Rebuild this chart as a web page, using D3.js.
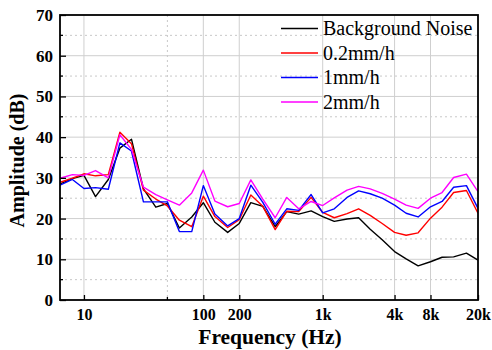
<!DOCTYPE html>
<html><head><meta charset="utf-8">
<script src="https://cdn.jsdelivr.net/npm/d3@7"></script>
<style>
html,body{margin:0;padding:0;background:#fff;}
svg{display:block;}
text{font-family:"Liberation Serif","Times New Roman",serif;}
</style></head>
<body><div id="chart"></div>
<script>
const freqs = [6.3,8,10,12.5,16,20,25,31.5,40,50,63,80,100,125,160,200,250,315,400,500,630,800,1000,1250,1600,2000,2500,3150,4000,5000,6300,8000,10000,12500,16000,20000];
const backgroundNoise = [28.5,29.8,30.6,25.4,29.6,37.3,39.5,27.3,22.8,23.7,17.7,20.4,23.9,19.1,16.6,18.8,23.9,23.0,18.0,21.7,21.1,21.9,20.5,19.3,19.9,20.2,17.4,14.8,11.9,10.1,8.4,9.4,10.5,10.6,11.5,9.8];
const rain02 = [28.9,29.9,31.0,30.5,30.8,41.2,38.4,27.0,24.8,23.1,19.6,18.0,25.5,20.5,17.8,19.7,25.8,23.0,17.3,21.8,21.7,25.2,21.5,20.2,21.2,22.4,20.8,18.8,16.6,15.9,16.5,20.1,22.8,26.4,26.9,21.3];
const rain1 = [28.2,29.6,27.4,27.6,27.2,38.6,36.6,24.1,24.1,24.1,16.8,16.8,28.1,21.1,18.2,20.0,28.2,24.0,18.6,22.4,22.0,25.9,21.4,22.4,25.2,26.8,26.1,25.0,23.3,21.3,20.4,22.9,24.2,27.7,28.1,22.5];
const rain2 = [29.9,30.8,30.6,31.8,30.0,40.6,37.0,27.7,25.9,24.6,23.3,26.3,31.9,24.3,22.9,23.7,29.5,24.8,20.2,25.2,22.4,24.2,23.2,25.1,27.0,27.9,27.3,26.2,24.8,23.3,22.5,25.0,26.4,30.1,30.9,26.6];
const seriesNames = ["Background Noise","0.2mm/h","1mm/h","2mm/h"];
const seriesColors = ["#000000","#ff0000","#0000ff","#ff00ff"];
const xTickValues = [10,100,200,1000,4000,8000,20000];
const xTickLabels = ["10","100","200","1k","4k","8k","20k"];
const xMinorTicks = [50];
const yTickValues = [0,10,20,30,40,50,60,70];
const yMinorTicks = [5,15,25,35,45,55,65];

const W=492,H=350;
const L=60,R=478,T=15,B=300;
const svg=d3.select("#chart").append("svg").attr("width",W).attr("height",H);
const x=d3.scaleLog().domain([6.3,20000]).range([L,R]);
const y=d3.scaleLinear().domain([0,70]).range([B,T]);

// gridlines
const g=svg.append("g");
g.selectAll(".hmaj").data(yTickValues.filter(v=>v>0&&v<70)).join("line")
 .attr("x1",L).attr("x2",R).attr("y1",d=>y(d)).attr("y2",d=>y(d))
 .attr("stroke","#cfcfcf").attr("stroke-width",1);
g.selectAll(".hmin").data(yMinorTicks).join("line")
 .attr("x1",L).attr("x2",R).attr("y1",d=>y(d)).attr("y2",d=>y(d))
 .attr("stroke","#c8c8c8").attr("stroke-width",1).attr("stroke-dasharray","2,3");
g.selectAll(".vmaj").data(xTickValues.filter(v=>v<20000)).join("line")
 .attr("y1",T).attr("y2",B).attr("x1",d=>x(d)).attr("x2",d=>x(d))
 .attr("stroke","#cfcfcf").attr("stroke-width",1);
g.selectAll(".vmin").data(xMinorTicks).join("line")
 .attr("y1",T).attr("y2",B).attr("x1",d=>x(d)).attr("x2",d=>x(d))
 .attr("stroke","#c8c8c8").attr("stroke-width",1).attr("stroke-dasharray","2,3");

// series lines
const allSeries=[backgroundNoise,rain02,rain1,rain2];
const line=d3.line().x((d,i)=>x(freqs[i])).y(d=>y(d));
svg.append("defs").append("clipPath").attr("id","clip").append("rect")
 .attr("x",L).attr("y",T).attr("width",R-L).attr("height",B-T);
const lg=svg.append("g").attr("clip-path","url(#clip)");
allSeries.forEach((s,k)=>{
  lg.append("path").datum(s).attr("d",line).attr("fill","none")
   .attr("stroke",seriesColors[k]).attr("stroke-width",1.4).attr("stroke-linejoin","round");
});

// axes
const xAxis=d3.axisBottom(x).tickValues(xTickValues).tickFormat((d,i)=>xTickLabels[i]).tickSizeInner(-5).tickSizeOuter(0).tickPadding(9);
const xa=svg.append("g").attr("transform",`translate(0,${B})`).call(xAxis);
xa.select(".domain").remove();
xa.selectAll("line").attr("stroke","#000").attr("stroke-width",1.3);
xa.selectAll("text").attr("font-size",16).attr("font-weight","bold").attr("fill","#000")
 .attr("font-family","'Liberation Serif','Times New Roman',serif");
svg.append("g").selectAll("line").data(xMinorTicks).join("line")
 .attr("x1",d=>x(d)).attr("x2",d=>x(d)).attr("y1",B).attr("y2",B-3).attr("stroke","#000").attr("stroke-width",1.3);

const yAxis=d3.axisLeft(y).tickValues(yTickValues).tickSizeInner(-6).tickSizeOuter(0).tickPadding(7);
const ya=svg.append("g").attr("transform",`translate(${L},0)`).call(yAxis);
ya.select(".domain").remove();
ya.selectAll("line").attr("stroke","#000").attr("stroke-width",1.3);
ya.selectAll("text").attr("font-size",17).attr("font-weight","bold").attr("fill","#000")
 .attr("font-family","'Liberation Serif','Times New Roman',serif");
svg.append("g").selectAll("line").data(yMinorTicks).join("line")
 .attr("x1",L).attr("x2",L+3).attr("y1",d=>y(d)).attr("y2",d=>y(d)).attr("stroke","#000").attr("stroke-width",1.3);

// frame
svg.append("rect").attr("x",L).attr("y",T).attr("width",R-L).attr("height",B-T)
 .attr("fill","none").attr("stroke","#000").attr("stroke-width",1.8);

// axis titles
svg.append("text").attr("x",(L+R)/2+1).attr("y",344).attr("text-anchor","middle")
 .attr("font-size",21.5).attr("font-weight","bold").text("Frequency (Hz)");
svg.append("text").attr("transform",`translate(24,${(T+B)/2+3}) rotate(-90)`).attr("text-anchor","middle")
 .attr("font-size",20).attr("font-weight","bold").text("Amplitude (dB)");

// legend
const leg=svg.append("g");
seriesNames.forEach((n,k)=>{
  const yy=28.5+k*24.5;
  leg.append("line").attr("x1",281).attr("x2",318).attr("y1",yy).attr("y2",yy)
   .attr("stroke",seriesColors[k]).attr("stroke-width",1.4);
  leg.append("text").attr("x",323).attr("y",yy+6.5).attr("font-size",20).attr("fill","#000").text(n);
});
</script></body></html>
